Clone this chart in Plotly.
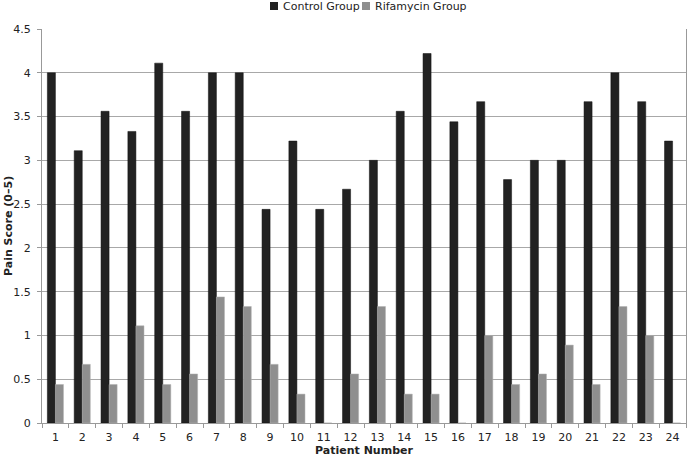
import plotly.graph_objects as go

patients = [str(i) for i in range(1, 25)]
control = [4.0, 3.11, 3.56, 3.33, 4.11, 3.56, 4.0, 4.0, 2.44, 3.22, 2.44, 2.67,
           3.0, 3.56, 4.22, 3.44, 3.67, 2.78, 3.0, 3.0, 3.67, 4.0, 3.67, 3.22]
rifamycin = [0.44, 0.67, 0.44, 1.11, 0.44, 0.56, 1.44, 1.33, 0.67, 0.33, 0.0, 0.56,
             1.33, 0.33, 0.33, 0.0, 1.0, 0.44, 0.56, 0.89, 0.44, 1.33, 1.0, 0.0]
series_names = ["Control Group", "Rifamycin Group"]
series_colors = ["#222222", "#8f8f8f"]

font = "DejaVu Sans, Verdana, sans-serif"

W, H = 687, 461
ML, MR, MT, MB = 42, 1, 29, 38
PW, PH = W - ML - MR, H - MT - MB

def px(x):
    return (x - ML) / PW

def py(y):
    return (H - MB - y) / PH

fig = go.Figure()
fig.add_trace(go.Bar(x=patients, y=control, name=series_names[0], showlegend=False,
                     marker=dict(color=series_colors[0], line=dict(color="#111111", width=0.5))))
fig.add_trace(go.Bar(x=patients, y=rifamycin, name=series_names[1], showlegend=False,
                     marker=dict(color=series_colors[1], line=dict(color="#b0b0b0", width=0.5))))

# manual legend (small squares + labels) at the top
legend_sq_x = [270, 362]
shapes, annotations = [], []
for nm, col, sx in zip(series_names, series_colors, legend_sq_x):
    shapes.append(dict(type="rect", xref="paper", yref="paper",
                       x0=px(sx), x1=px(sx + 8), y0=py(10), y1=py(2),
                       fillcolor=col, line=dict(width=0)))
    annotations.append(dict(xref="paper", yref="paper", x=px(sx + 11), y=py(6),
                            xanchor="left", yanchor="middle", showarrow=False,
                            text=nm, font=dict(size=11, color="#222222")))

# y-axis title
annotations.append(dict(xref="paper", yref="paper", x=px(8), y=0.5,
                        xanchor="center", yanchor="middle", showarrow=False,
                        textangle=-90, text="<b>Pain Score (0–5)</b>",
                        font=dict(size=11, color="#222222")))

fig.update_layout(
    width=W, height=H,
    margin=dict(l=ML, r=MR, t=MT, b=MB, autoexpand=False),
    paper_bgcolor="white", plot_bgcolor="white",
    barmode="group", bargap=0.4, bargroupgap=0,
    showlegend=False,
    font=dict(family=font, size=11, color="#222222"),
    shapes=shapes, annotations=annotations,
    xaxis=dict(type="category", tickson="boundaries", ticks="outside", ticklen=4,
               tickcolor="#999999", showline=True, linecolor="#999999", linewidth=1,
               showgrid=False, automargin=False, ticklabelstandoff=4,
               title=dict(text="<b>Patient Number</b>", font=dict(size=11), standoff=3)),
    yaxis=dict(range=[0, 4.5], dtick=0.5, ticks="outside", ticklen=4, tickcolor="#999999",
               showline=True, linecolor="#999999", linewidth=1, mirror=True,
               showgrid=True, gridcolor="#a8a8a8", gridwidth=1, zeroline=False,
               automargin=False, ticklabelstandoff=4),
)

fig.write_html("out.html", config={"displayModeBar": False},
               post_script="document.body.style.margin='0';")
